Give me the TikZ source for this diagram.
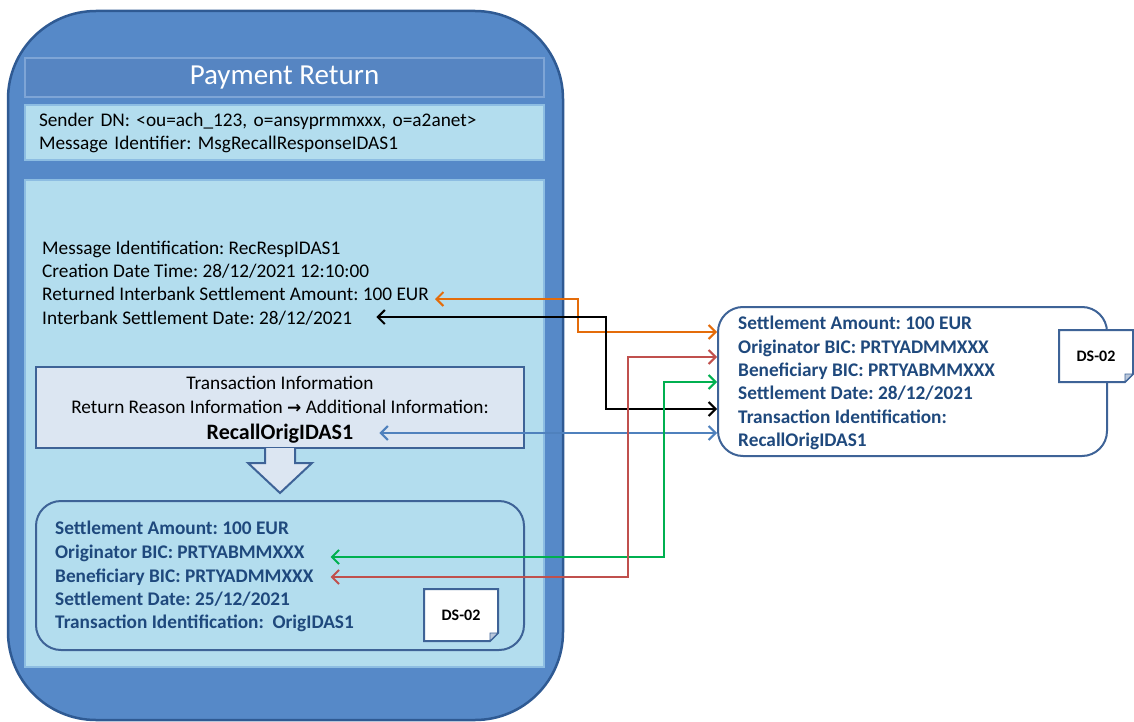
\documentclass[tikz,border=0pt]{standalone}
\usepackage{fontspec}
\setmainfont{Carlito}
\newfontfamily\arrowfont{DejaVu Sans}
\frenchspacing
\usetikzlibrary{arrows.meta, positioning}
\definecolor{shell}    {HTML}{5689C8}
\definecolor{shelledge}{HTML}{2F5A93}
\definecolor{panel}    {HTML}{B3DDEE}
\definecolor{paneledge}{HTML}{8DBDE2}
\definecolor{bar}      {HTML}{5685C2}
\definecolor{baredge}  {HTML}{7EA5D6}
\definecolor{infofill} {HTML}{DCE6F2}
\definecolor{frame}    {HTML}{3E6397}
\definecolor{data}     {HTML}{1F497D}
\definecolor{lnorange} {HTML}{E46C0A}
\definecolor{lnred}    {HTML}{C0504D}
\definecolor{lngreen}  {HTML}{00B050}
\definecolor{lnblue}   {HTML}{4F81BD}

% folded note "DS-02": #1 name, #2/#3 centre
\newcommand\dsnote[3]{%
  \draw[frame, line width=2pt, fill=white, line join=miter]
    (#2-37,#3-26) -- (#2+37,#3-26) -- (#2+37,#3+18) -- (#2+29,#3+26)
    -- (#2-37,#3+26) -- cycle;
  \draw[frame, line width=0.8pt, fill=frame!35]
    (#2+37,#3+18) -- (#2+29,#3+18) -- (#2+29,#3+26) -- cycle;
  \node[dstag] (#1) at (#2,#3) {DS-02};
}

\begin{document}
\begin{tikzpicture}[
  x=1pt, y=-1pt,
  pane/.style ={draw=paneledge, line width=1.5pt, fill=panel, inner sep=0pt},
  bar/.style  ={draw=baredge, line width=1.5pt, fill=bar, inner sep=0pt,
                text=white, font=\fontsize{29}{32}\selectfont},
  line/.style ={anchor=west, inner sep=0pt, text height=12pt, text depth=0pt,
                font=\fontsize{19.3}{23}\selectfont},
  dline/.style={line, text=data, font=\bfseries\fontsize{19.3}{23}\selectfont},
  cline/.style={line, anchor=center},
  card/.style ={draw=frame, line width=2pt, rounded corners=25pt, inner sep=0pt},
  dstag/.style={inner sep=0pt, font=\bfseries\fontsize{16}{18}\selectfont},
  link/.style ={{Straight Barb[length=7pt,width=14pt]}-{Straight Barb[length=7pt,width=14pt]},
                line width=2pt},
]
  \useasboundingbox (0,0) rectangle (1134,722);

  % --- the message envelope -------------------------------------
  \draw[draw=shelledge, line width=2.5pt, fill=shell, rounded corners=88pt]
    (8,11) rectangle (563,720);
  \node[bar, minimum width=519, minimum height=39] (title) at (284.5,77.5)
    {Payment Return};
  \node[pane, minimum width=519, minimum height=55, text width=491, align=left,
        font=\fontsize{19.3}{23}\selectfont] (sender) at (284.5,132.5)
    {Sender DN: <ou=ach\_123, o=ansyprmmxxx, o=a2anet>\\
     Message Identifier: MsgRecallResponseIDAS1};
  \node[pane, minimum width=519, minimum height=487] (body) at (284.5,423.5) {};

  % --- group header ----------------------------------------------
  \node[line] (msgid)  at (42,248) {Message Identification: RecRespIDAS1};
  \node[line] (credt)  at (42,271) {Creation Date Time: 28/12/2021 12:10:00};
  \node[line] (amt)    at (42,294) {Returned Interbank Settlement Amount: 100 EUR};
  \node[line] (sttldt) at (42,318) {Interbank Settlement Date: 28/12/2021};

  % --- transaction information -----------------------------------
  \node[draw=frame, line width=2pt, fill=infofill, minimum width=488,
        minimum height=81, inner sep=0pt] (txinfo) at (280,407.5) {};
  \node[cline] (txhead) at (280,383) {Transaction Information};
  \node[cline] (rsn)    at (280,407)
    {Return Reason Information {\arrowfont\bfseries\fontsize{17}{20}\selectfont →}
     Additional Information:};
  \node[cline, font=\bfseries\fontsize{22}{26}\selectfont] (rcl) at (280,433)
    {RecallOrigIDAS1};
  \draw[draw=frame, line width=2pt, fill=infofill, line join=miter]
    (265,448) -- (265,463) -- (248,463) -- (280,493) -- (312,463)
    -- (295,463) -- (295,448);

  % --- original transaction data --------------------------------
  \node[card, minimum width=488, minimum height=149] (orig) at (280,575.5) {};
  \node[dline] (oAmt)  at (55,528) {Settlement Amount: 100 EUR};
  \node[dline] (oOrig) at (55,552) {Originator BIC: PRTYABMMXXX};
  \node[dline] (oBene) at (55,576) {Beneficiary BIC: PRTYADMMXXX};
  \node[dline] (oDate) at (55,599) {Settlement Date: 25/12/2021};
  \node[dline] (oTxId) at (55,622) {Transaction Identification:\ \ OrigIDAS1};
  \dsnote{oDoc}{461}{615}

  % --- recall data set --------------------------------------------
  \node[card, fill=white, minimum width=389, minimum height=149] (rbox)
    at (912.5,381.5) {};
  \node[dline] (rAmt)   at (738,323) {Settlement Amount: 100 EUR};
  \node[dline] (rOrig)  at (738,347) {Originator BIC: PRTYADMMXXX};
  \node[dline] (rBene)  at (738,370) {Beneficiary BIC: PRTYABMMXXX};
  \node[dline] (rDate)  at (738,393) {Settlement Date: 28/12/2021};
  \node[dline] (rTxId)  at (738,417) {Transaction Identification:};
  \node[dline] (rTxVal) at (738,440) {RecallOrigIDAS1};
  \dsnote{rDoc}{1096}{356}

  % --- field mapping ------------------------------------------------
  \draw[link, lnorange] ([xshift=6pt,yshift=-5pt]amt.east) -| (578,332)
    -- (rbox.west |- 0,332);
  \draw[link, black] ([xshift=24pt,yshift=1pt]sttldt.east) -| (606,409)
    -- (rbox.west |- 0,409);
  \draw[link, lnblue] ([xshift=26pt]rcl.east) -- (rbox.west |- 0,433);
  \draw[link, lngreen] ([xshift=26pt,yshift=-5pt]oOrig.east) -| (664,382)
    -- (rbox.west |- 0,382);
  \draw[link, lnred] ([xshift=17pt,yshift=-1pt]oBene.east) -| (628,357)
    -- (rbox.west |- 0,357);
\end{tikzpicture}
\end{document}
